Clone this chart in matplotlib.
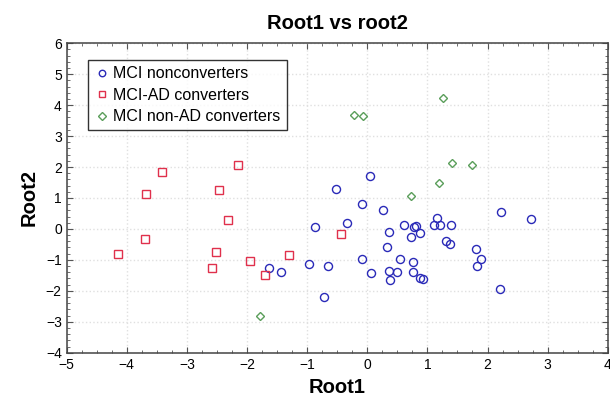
import numpy as np
import matplotlib.pyplot as plt
from matplotlib.ticker import MultipleLocator

# MCI nonconverters
non_x = [0.04, -0.52, -0.09, 0.27, -0.33, -0.87, 0.36, 0.61, 0.78, 0.81,
         0.87, 0.72, 1.155, 1.105, 1.21, 1.39, 1.31, 1.37, 0.32, -0.09,
         0.545, 0.76, -0.97, -0.65, 0.07, 0.36, 0.50, 0.76, 0.37, 0.87,
         0.93, 1.81, 1.82, 1.90, 2.21, 2.225, 2.73, -1.63, -1.43, -0.72]
non_y = [1.71, 1.28, 0.81, 0.60, 0.18, 0.07, -0.11, 0.12, 0.06, 0.10,
         -0.12, -0.26, 0.34, 0.14, 0.14, 0.13, -0.39, -0.49, -0.58, -0.97,
         -0.96, -1.07, -1.13, -1.20, -1.43, -1.35, -1.38, -1.40, -1.65, -1.60,
         -1.63, -0.66, -1.19, -0.98, -1.93, 0.55, 0.32, -1.25, -1.38, -2.20]

# MCI-AD converters
ad_x = [-4.14, -3.70, -3.68, -3.41, -2.58, -2.51, -2.46, -2.31, -2.15,
        -1.95, -1.70, -1.31, -0.44]
ad_y = [-0.81, -0.34, 1.12, 1.83, -1.27, -0.76, 1.26, 0.30, 2.08,
        -1.04, -1.49, -0.83, -0.16]

# MCI non-AD converters
nonad_x = [-0.22, -0.07, 1.255, 1.405, 1.75, 1.19, 0.72, -1.78]
nonad_y = [3.67, 3.64, 4.24, 2.13, 2.07, 1.48, 1.05, -2.81]

plt.rcParams['font.family'] = ['Liberation Sans', 'DejaVu Sans']

fig = plt.figure(figsize=(6.1, 4.04), dpi=100)
ax = fig.add_axes([0.1093, 0.127, 0.887, 0.766])

ax.plot(non_x, non_y, 'o', ms=5.8, mfc='none', mec='#2a2ab8', mew=1.0,
        label='MCI nonconverters')
ax.plot(ad_x, ad_y, 's', ms=6.0, mfc='none', mec='#e0304c', mew=1.0,
        label='MCI-AD converters')
ax.plot(nonad_x, nonad_y, 'D', ms=4.5, mfc='none', mec='#5a9e5a', mew=1.0,
        label='MCI non-AD converters')

ax.set_xlim(-5, 4)
ax.set_ylim(-4, 6)
ax.xaxis.set_major_locator(MultipleLocator(1))
ax.yaxis.set_major_locator(MultipleLocator(1))
ax.xaxis.set_minor_locator(MultipleLocator(0.25))
ax.yaxis.set_minor_locator(MultipleLocator(0.2))
ax.tick_params(which='both', direction='in', top=True, right=True,
               labelsize=10, color='#555555')
ax.tick_params(which='major', length=4)
ax.tick_params(which='minor', length=2)
ax.grid(True, which='major', linestyle=':', color='#e0e0e0', linewidth=1.0)
for s in ax.spines.values():
    s.set_color('#444444')
    s.set_linewidth(1.1)

ax.set_title('Root1 vs root2', fontsize=14.5, fontweight='bold', pad=10)
ax.set_xlabel('Root1', fontsize=14.5, fontweight='bold', labelpad=5)
ax.set_ylabel('Root2', fontsize=14.5, fontweight='bold', labelpad=5)

leg = ax.legend(loc='upper left', bbox_to_anchor=(0.039, 0.946), fontsize=11.5,
                frameon=True, fancybox=False, edgecolor='black',
                handletextpad=0.2, borderpad=0.4, labelspacing=0.4,
                handlelength=1.0, markerscale=0.8, borderaxespad=0)
leg.get_frame().set_linewidth(1.0)

fig.savefig('out.png', dpi=100)
